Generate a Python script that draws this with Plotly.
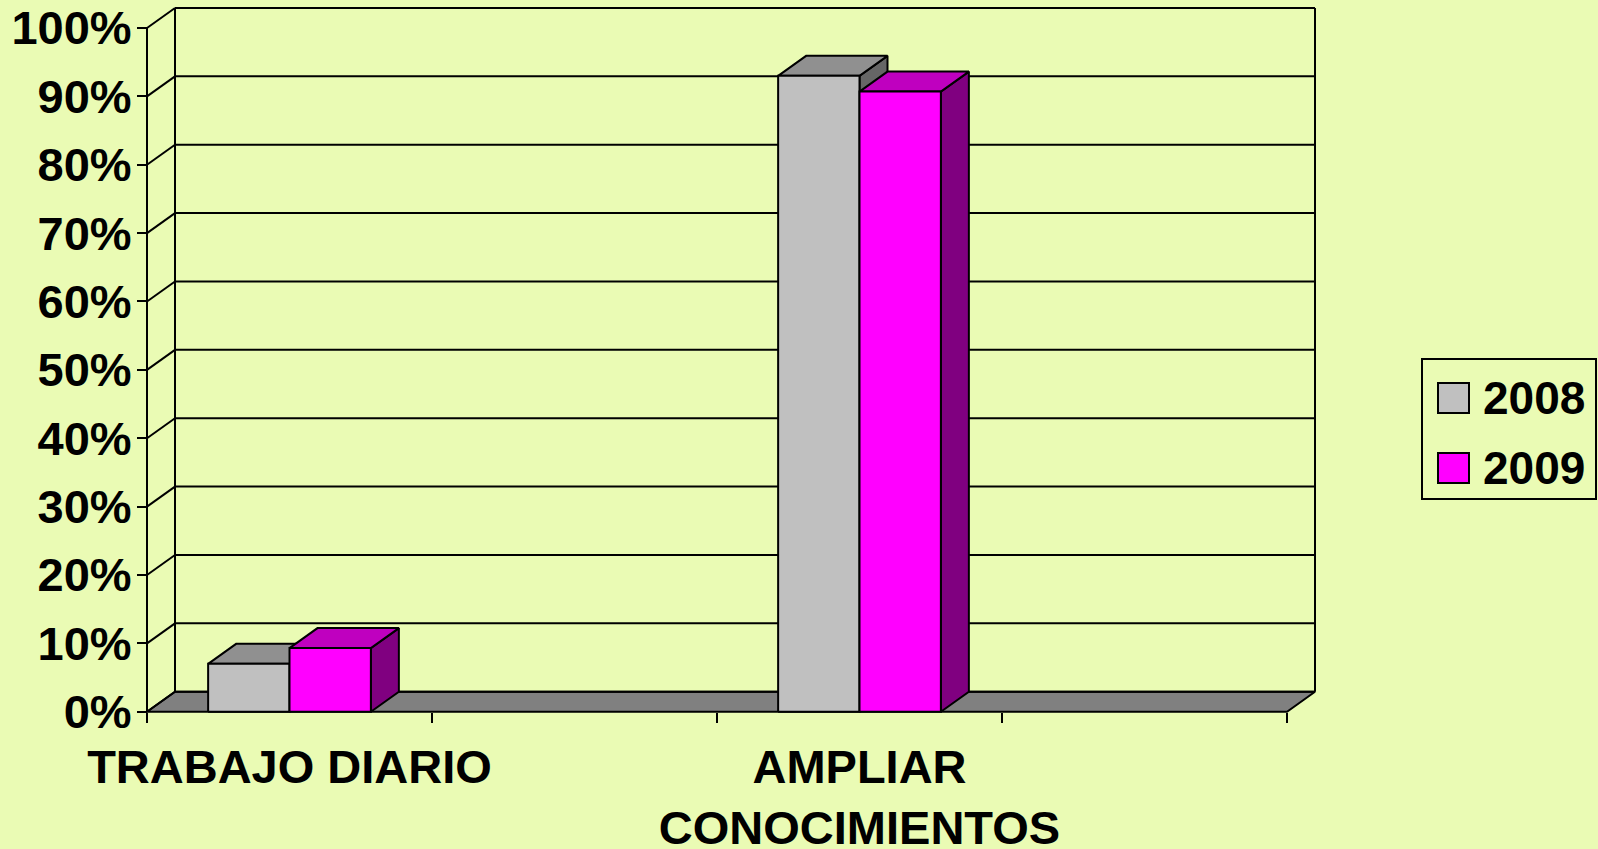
import plotly.graph_objects as go

# ---------------- data ----------------
categories = ["TRABAJO DIARIO", "AMPLIAR<br>CONOCIMIENTOS"]
series_names = ["2008", "2009"]
values_2008 = [7.0, 93.0]
values_2009 = [9.3, 90.7]
y_tick_values = [0, 10, 20, 30, 40, 50, 60, 70, 80, 90, 100]
y_tick_labels = ["0%", "10%", "20%", "30%", "40%", "50%", "60%", "70%", "80%", "90%", "100%"]

# ---------------- style / geometry ----------------
W, H = 1598, 849
BG = "#EAFBB4"
FONT = "Liberation Sans, Arial, sans-serif"
FS_TICK = 47
FS_LEG = 46
N_SLOTS = 4              # category slots on the axis (labels on every other slot)
SLOT_STEP = 2
BAR_W = 0.2855
X0_PX, X_PER = 147.0, 285.0      # px of x=0, px per slot
Y0_PX, Y_PER = 711.7, 6.837      # px of y=0, px per percent
DX = 28.0 / X_PER                # depth offset in data units
DY = 20.0 / Y_PER
PAD = 4.0
LW = 2

colors = {
    "2008": {"front": "#C0C0C0", "top": "#909090", "side": "#666666"},
    "2009": {"front": "#FF00FF", "top": "#BF00BF", "side": "#800080"},
}
series_values = {"2008": values_2008, "2009": values_2009}

fig = go.Figure()


def poly(xs, ys, fill, width=LW, color="black"):
    fig.add_trace(go.Scatter(
        x=xs, y=ys, mode="lines", fill="toself" if fill else None,
        fillcolor=fill, line=dict(color=color, width=width),
        hoverinfo="skip", showlegend=False))


def lines(segs):
    xs, ys = [], []
    for (xa, ya), (xb, yb) in segs:
        xs += [xa, xb, None]
        ys += [ya, yb, None]
    fig.add_trace(go.Scatter(x=xs, y=ys, mode="lines",
                             line=dict(color="black", width=LW),
                             hoverinfo="skip", showlegend=False))


N = N_SLOTS
# floor
poly([0, N, N + DX, DX, 0], [0, 0, DY, DY, 0], "#808080")

# back wall gridlines, side-wall diagonals, wall edges, front value axis
segs = []
for v in y_tick_values:
    segs.append(((DX, v + DY), (N + DX, v + DY)))
    segs.append(((0, v), (DX, v + DY)))
top = y_tick_values[-1]
segs.append(((DX, DY), (DX, top + DY)))
segs.append(((N + DX, DY), (N + DX, top + DY)))
segs.append(((0, 0), (0, top)))
lines(segs)

# 3D bars
for i, cat in enumerate(categories):
    c = SLOT_STEP * i + 0.5
    n = len(series_names)
    for j, s in enumerate(series_names):
        v = series_values[s][i]
        x0 = c - n * BAR_W / 2 + j * BAR_W
        x1 = x0 + BAR_W
        col = colors[s]
        poly([x1, x1 + DX, x1 + DX, x1, x1], [0, DY, v + DY, v, 0], col["side"])
        poly([x0, x1, x1 + DX, x0 + DX, x0], [v, v, v + DY, v + DY, v], col["top"])
        poly([x0, x1, x1, x0, x0], [0, 0, v, v, 0], col["front"])

# axes mapping
x_rng = [-PAD / X_PER, N + DX + PAD / X_PER]
y_top = top + DY
y_rng = [-PAD / Y_PER, y_top + PAD / Y_PER]
x_dom = [(X0_PX - PAD) / W, (X0_PX + (N + DX) * X_PER + PAD) / W]
y_dom = [1 - (Y0_PX + PAD) / H, 1 - (Y0_PX - y_top * Y_PER - PAD) / H]

fig.update_layout(
    width=W, height=H,
    margin=dict(l=0, r=0, t=0, b=0, pad=0),
    paper_bgcolor=BG, plot_bgcolor=BG,
    showlegend=False,
    font=dict(family=FONT, size=FS_TICK, color="black"),
    xaxis=dict(
        range=x_rng, domain=x_dom, anchor="free", position=1 - Y0_PX / H,
        automargin=False,
        showgrid=False, zeroline=False, showline=False,
        tickmode="array", tickvals=[SLOT_STEP * i + 0.5 for i in range(len(categories))],
        ticktext=categories, ticks="",
        tickfont=dict(family=FONT, size=FS_TICK, weight="bold", color="black"),
        ticklabelstandoff=23,
        minor=dict(tickvals=list(range(N + 1)), ticks="outside", ticklen=10,
                   tickwidth=LW, tickcolor="black"),
        fixedrange=True,
    ),
    yaxis=dict(
        range=y_rng, domain=y_dom, anchor="free", position=X0_PX / W,
        automargin=False,
        showgrid=False, zeroline=False, showline=False,
        tickmode="array", tickvals=y_tick_values, ticktext=y_tick_labels,
        ticks="outside", ticklen=10, tickwidth=LW, tickcolor="black",
        tickfont=dict(family=FONT, size=FS_TICK, weight="bold", color="black"),
        ticklabelstandoff=-4,
        fixedrange=True,
    ),
)

# legend (drawn manually to match the large swatches)
LEG = dict(x0=1422, x1=1596, y0=359, y1=499)
fig.add_shape(type="rect", xref="paper", yref="paper",
              x0=LEG["x0"] / W, x1=LEG["x1"] / W,
              y0=1 - LEG["y1"] / H, y1=1 - LEG["y0"] / H,
              line=dict(color="black", width=LW), fillcolor=BG)
for k, s in enumerate(series_names):
    cy = 398 + 70 * k
    fig.add_shape(type="rect", xref="paper", yref="paper",
                  x0=1438 / W, x1=1469 / W,
                  y0=1 - (cy + 15) / H, y1=1 - (cy - 15) / H,
                  line=dict(color="black", width=LW), fillcolor=colors[s]["front"])
    fig.add_annotation(xref="paper", yref="paper", x=1481 / W, y=1 - cy / H,
                       xanchor="left", yanchor="middle", showarrow=False,
                       text="<b>%s</b>" % s,
                       font=dict(family=FONT, size=FS_LEG, color="black"))

fig.write_html(
    "out.html",
    config={"displayModeBar": False},
    post_script="document.body.style.margin='0';document.body.style.background='%s';"
                "document.body.style.overflow='hidden';" % BG,
)
